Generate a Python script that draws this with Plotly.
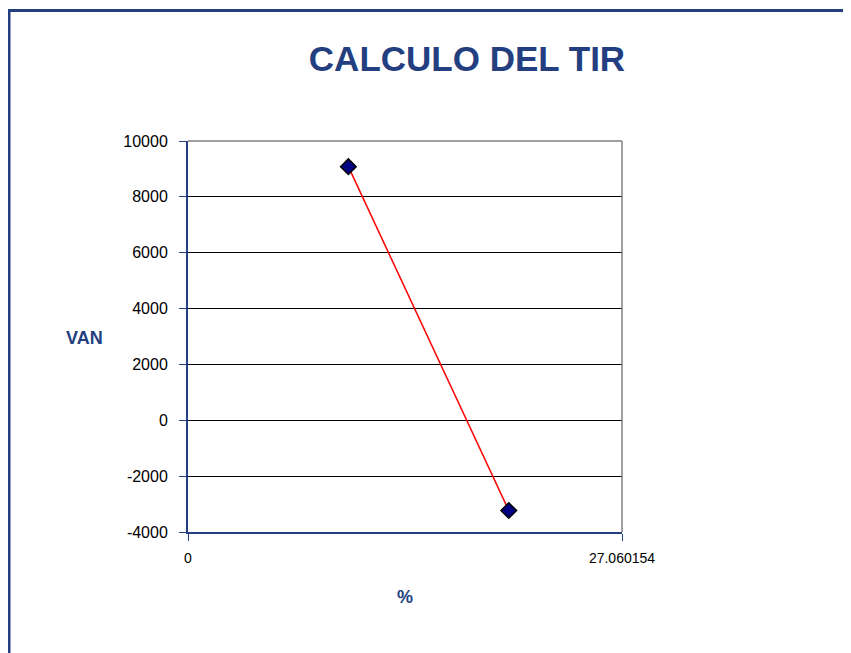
import plotly.graph_objects as go

# data
tasa = [10, 20]              # % discount rate
van = [9080, -3230]          # VAN (net present value)
x_max = 27.060154
x_ticks = [0, x_max]
x_tick_text = ["0", "27.060154"]
y_ticks = [-4000, -2000, 0, 2000, 4000, 6000, 8000, 10000]
y_tick_text = ["-4000", "-2000", "0", "2000", "4000", "6000", "8000", "10000"]

BLUE = "#243F7F"

fig = go.Figure()
fig.add_trace(
    go.Scatter(
        x=tasa,
        y=van,
        mode="lines+markers",
        line=dict(color="#FF0000", width=1.5),
        marker=dict(symbol="diamond", size=12, color="#000080",
                    line=dict(color="black", width=1.5)),
        showlegend=False,
    )
)

# page body adds 8px, so shift everything by that
OFF = 8
W, H = 851, 653
L, T = 188 - OFF, 141 - OFF
R, B = W - (622 - OFF), H - (532 - OFF)
pw, ph = W - L - R, H - T - B


def px_x(p):
    return (p - OFF - L) / pw


def px_y(p):
    return 1 + (T - (p - OFF)) / ph


# outer chart border (top and left only visible)
fig.add_shape(type="line", xref="paper", yref="paper",
              x0=px_x(9), x1=px_x(9), y0=px_y(670), y1=px_y(10.5),
              line=dict(color=BLUE, width=3))
fig.add_shape(type="line", xref="paper", yref="paper",
              x0=px_x(8), x1=px_x(870), y0=px_y(10.5), y1=px_y(10.5),
              line=dict(color=BLUE, width=3))
# grey plot-area border on top and right
fig.add_shape(type="line", xref="paper", yref="paper",
              x0=0, x1=1, y0=1, y1=1, line=dict(color="#808080", width=1.5))
fig.add_shape(type="line", xref="paper", yref="paper",
              x0=1, x1=1, y0=0, y1=1, line=dict(color="#808080", width=1.5))

fig.update_layout(
    width=W,
    height=H,
    margin=dict(l=L, r=R, t=T, b=B),
    paper_bgcolor="white",
    plot_bgcolor="white",
    font=dict(family="Liberation Sans, Arial, sans-serif", color="black"),
    title=dict(
        text="<b>CALCULO DEL TIR</b>",
        font=dict(size=35, color=BLUE),
        x=px_x(467), xref="paper", xanchor="center",
        y=1 - (59 - OFF) / H, yref="container", yanchor="middle",
    ),
)

fig.update_xaxes(
    range=[0, x_max],
    tickvals=x_ticks,
    ticktext=x_tick_text,
    tickfont=dict(size=14, color="black"),
    ticks="outside",
    ticklen=7,
    tickcolor=BLUE,
    ticklabelstandoff=5,
    showgrid=False,
    zeroline=False,
    showline=True,
    linecolor=BLUE,
    linewidth=2,
)

fig.update_yaxes(
    range=[-4000, 10000],
    tickvals=y_ticks,
    ticktext=y_tick_text,
    tickfont=dict(size=16, color="black"),
    ticks="outside",
    ticklen=7,
    tickcolor=BLUE,
    ticklabelstandoff=8,
    showgrid=True,
    gridcolor="black",
    gridwidth=1,
    zeroline=False,
    showline=True,
    linecolor=BLUE,
    linewidth=2,
)

# axis titles placed as in the original (VAN is horizontal)
fig.add_annotation(text="<b>VAN</b>", xref="paper", yref="paper",
                   x=px_x(84), y=px_y(338), xanchor="center", yanchor="middle",
                   showarrow=False, font=dict(size=18, color=BLUE))
fig.add_annotation(text="<b>%</b>", xref="paper", yref="paper",
                   x=px_x(405), y=px_y(597), xanchor="center", yanchor="middle",
                   showarrow=False, font=dict(size=18, color=BLUE))

fig.write_html("out.html")
